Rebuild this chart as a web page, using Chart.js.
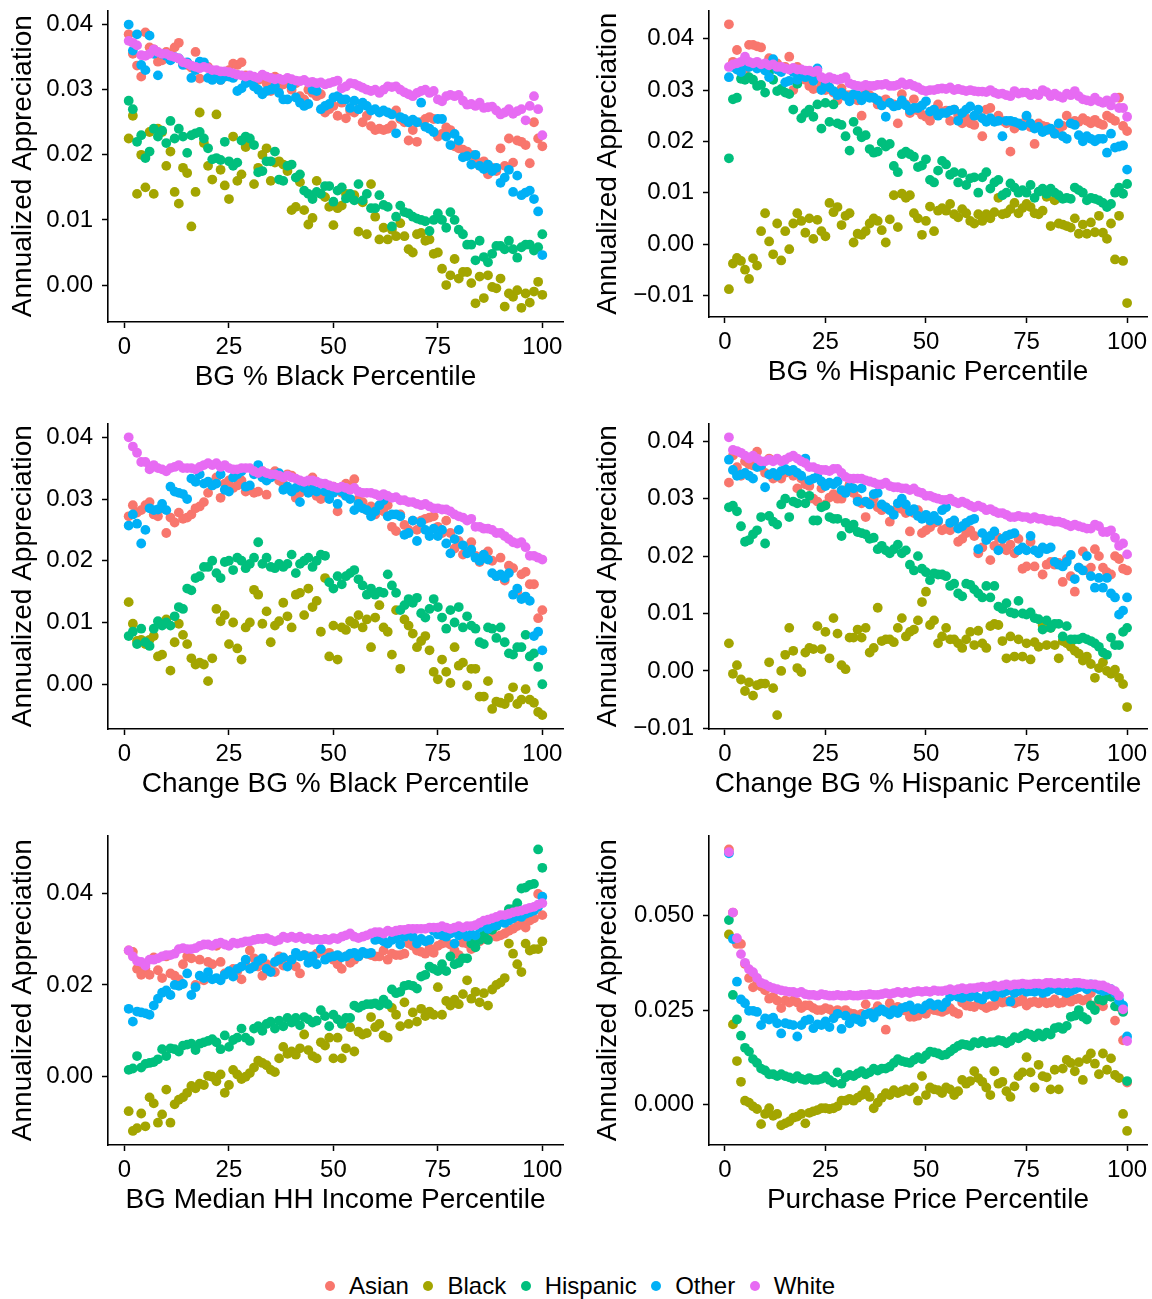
<!DOCTYPE html>
<html lang="en">
<head>
<meta charset="utf-8">
<title>Annualized Appreciation by Percentile</title>
<script src="https://cdn.jsdelivr.net/npm/chart.js@4.4.0/dist/chart.umd.min.js"></script>
<style>
  body { margin: 0; background: #fff; width: 1152px; height: 1299px; position: relative; overflow: hidden;
         font-family: "Liberation Sans", Arial, sans-serif; }
  .panel { position: absolute; }
  #legend { position: absolute; left: 4px; top: 1271px; width: 1152px; height: 30px; display: flex;
            justify-content: center; align-items: center; font-size: 24px; color: #000; }
  #legend .item { display: flex; align-items: center; margin-right: 14.5px; }
  #legend .item:last-child { margin-right: 0; }
  #legend .dot { width: 10px; height: 10px; border-radius: 50%; margin-right: 14px; }
</style>
</head>
<body>
<div id="legend"></div>
<script>
// ---- data: one value per percentile 1..100, series order Asian, Black, Hispanic, Other, White ----
const raceNames = ['Asian', 'Black', 'Hispanic', 'Other', 'White'];
const raceColors = ['#F8766D', '#A3A500', '#00BF7D', '#00B0F6', '#E76BF3'];

const xTicks = [0, 25, 50, 75, 100];
const xTickLabels = ['0', '25', '50', '75', '100'];

// BG % Black Percentile
const p1Asian = [.0385,.0355,.0337,.0320,.0388,.0365,.0362,.0343,.0345,.0358,
.0355,.0365,.0372,.0340,.0338,.0334,.0358,.0317,.0340,.0335,
.0322,.0328,.0315,.0320,.0330,.0340,.0338,.0342,.0322,.0318,
.0310,.0315,.0322,.0310,.0298,.0320,.0305,.0308,.0315,.0300,
.0310,.0290,.0285,.0300,.0295,.0290,.0293,.0265,.0270,.0275,
.0260,.0280,.0256,.0268,.0265,.0270,.0250,.0260,.0244,.0238,
.0240,.0238,.0240,.0245,.0268,.0255,.0250,.0222,.0238,.0220,
.0250,.0255,.0258,.0255,.0228,.0232,.0242,.0238,.0213,.0210,
.0208,.0205,.0200,.0193,.0183,.0190,.0170,.0180,.0175,.0210,
.0183,.0225,.0188,.0222,.0220,.0215,.0187,.0250,.0225,.0213];
const p1Black = [.0225,.0260,.0140,.0200,.0150,.0235,.0140,.0240,.0235,.0183,
.0205,.0143,.0125,.0180,.0172,.0090,.0143,.0265,.0218,.0183,
.0162,.0262,.0177,.0153,.0132,.0228,.0160,.0170,.0212,.0220,
.0155,.0180,.0200,.0210,.0160,.0188,.0190,.0185,.0175,.0115,
.0120,.0158,.0115,.0093,.0103,.0160,.0140,.0135,.0120,.0092,
.0118,.0122,.0140,.0135,.0138,.0082,.0127,.0078,.0155,.0105,
.0070,.0088,.0070,.0085,.0075,.0095,.0075,.0055,.0050,.0078,
.0080,.0068,.0070,.0048,.0050,.0025,.0000,.0015,.0040,.0010,
.0020,.0020,.0003,-.0028,.0013,-.0020,.0015,-.0003,-.0005,.0010,
-.0033,-.0013,-.0018,-.0008,-.0035,-.0013,-.0027,-.0010,.0005,-.0015];
const p1Hispanic = [.0283,.0270,.0220,.0230,.0195,.0205,.0240,.0228,.0237,.0218,
.0252,.0225,.0240,.0228,.0203,.0230,.0233,.0235,.0225,.0210,
.0193,.0195,.0192,.0220,.0190,.0183,.0188,.0222,.0228,.0225,
.0215,.0173,.0175,.0190,.0190,.0205,.0162,.0160,.0183,.0185,
.0165,.0170,.0145,.0140,.0132,.0143,.0140,.0152,.0152,.0128,
.0145,.0150,.0133,.0140,.0130,.0155,.0130,.0140,.0118,.0118,
.0138,.0123,.0120,.0090,.0105,.0122,.0112,.0110,.0105,.0102,
.0100,.0098,.0083,.0100,.0110,.0100,.0088,.0112,.0100,.0085,
.0078,.0062,.0062,.0038,.0068,.0043,.0035,.0048,.0060,.0060,
.0055,.0068,.0055,.0042,.0058,.0062,.0062,.0053,.0058,.0078];
const p1Other = [.0400,.0360,.0385,.0338,.0330,.0383,.0355,.0322,.0355,.0352,
.0345,.0350,.0348,.0338,.0342,.0318,.0330,.0343,.0342,.0318,
.0315,.0320,.0315,.0320,.0320,.0318,.0298,.0302,.0310,.0315,
.0305,.0300,.0293,.0298,.0300,.0305,.0295,.0285,.0285,.0305,
.0288,.0280,.0275,.0278,.0300,.0298,.0270,.0275,.0278,.0288,
.0290,.0285,.0285,.0272,.0283,.0270,.0280,.0275,.0268,.0270,
.0265,.0268,.0265,.0262,.0233,.0258,.0255,.0250,.0254,.0250,
.0280,.0243,.0240,.0235,.0255,.0255,.0228,.0215,.0232,.0222,
.0196,.0198,.0185,.0200,.0183,.0178,.0185,.0175,.0180,.0157,
.0165,.0177,.0143,.0168,.0138,.0142,.0145,.0132,.0113,.0046];
const p1White = [.0375,.0372,.0368,.0353,.0352,.0355,.0362,.0358,.0355,.0355,
.0352,.0350,.0348,.0342,.0340,.0337,.0335,.0333,.0335,.0333,
.0330,.0330,.0328,.0328,.0327,.0325,.0323,.0322,.0320,.0322,
.0320,.0318,.0323,.0320,.0318,.0316,.0317,.0315,.0318,.0316,
.0314,.0313,.0315,.0311,.0312,.0310,.0311,.0308,.0310,.0312,
.0314,.0302,.0305,.0310,.0309,.0306,.0303,.0300,.0298,.0300,
.0295,.0300,.0305,.0304,.0305,.0300,.0296,.0293,.0290,.0295,
.0298,.0300,.0295,.0298,.0285,.0282,.0290,.0292,.0290,.0292,
.0283,.0277,.0278,.0275,.0280,.0272,.0273,.0274,.0268,.0262,
.0265,.0270,.0263,.0267,.0270,.0253,.0275,.0290,.0270,.0230];

// BG % Hispanic Percentile
const p2Asian = [.0428,.0355,.0378,.0342,.0338,.0388,.0388,.0385,.0383,.0350,
.0362,.0355,.0352,.0340,.0345,.0365,.0300,.0345,.0335,.0320,
.0308,.0302,.0322,.0310,.0300,.0305,.0295,.0280,.0303,.0290,
.0290,.0285,.0280,.0250,.0295,.0290,.0285,.0272,.0278,.0282,
.0275,.0272,.0235,.0292,.0272,.0255,.0282,.0260,.0252,.0248,
.0240,.0255,.0272,.0258,.0260,.0240,.0262,.0250,.0235,.0245,
.0235,.0232,.0250,.0210,.0262,.0265,.0240,.0250,.0240,.0235,
.0180,.0225,.0232,.0235,.0248,.0228,.0195,.0235,.0230,.0228,
.0222,.0215,.0222,.0230,.0250,.0235,.0240,.0238,.0245,.0240,
.0235,.0242,.0235,.0232,.0250,.0245,.0240,.0285,.0230,.0220];
const p2Black = [-.0088,-.0038,-.0027,-.0033,-.0050,-.0068,-.0028,-.0042,.0025,.0060,
.0005,-.0020,.0040,-.0032,.0025,-.0010,.0040,.0060,.0045,.0022,
.0050,.0010,.0047,.0025,.0015,.0080,.0062,.0072,.0037,.0055,
.0060,.0003,.0020,.0018,.0025,.0040,.0050,.0045,.0027,.0003,
.0048,.0095,.0033,.0098,.0090,.0095,.0060,.0050,.0018,.0045,
.0073,.0025,.0065,.0070,.0065,.0078,.0058,.0052,.0068,.0060,
.0045,.0040,.0058,.0045,.0058,.0050,.0062,.0090,.0058,.0060,
.0068,.0080,.0060,.0070,.0078,.0072,.0060,.0058,.0065,.0092,
.0035,.0085,.0040,.0038,.0035,.0032,.0050,.0020,.0038,.0020,
.0042,.0023,.0055,.0022,.0010,.0040,-.0030,.0055,-.0033,-.0115];
const p2Hispanic = [.0167,.0282,.0285,.0322,.0320,.0325,.0320,.0308,.0310,.0295,
.0335,.0320,.0298,.0302,.0295,.0292,.0262,.0312,.0245,.0255,
.0262,.0248,.0272,.0225,.0275,.0238,.0272,.0235,.0232,.0210,
.0182,.0238,.0220,.0208,.0212,.0185,.0178,.0180,.0198,.0190,
.0195,.0152,.0140,.0175,.0180,.0175,.0170,.0150,.0153,.0165,
.0125,.0120,.0143,.0162,.0155,.0135,.0140,.0120,.0138,.0115,
.0128,.0130,.0100,.0130,.0140,.0108,.0120,.0125,.0095,.0100,
.0118,.0110,.0100,.0105,.0100,.0115,.0090,.0102,.0108,.0098,
.0108,.0100,.0095,.0088,.0090,.0088,.0110,.0105,.0100,.0085,
.0090,.0088,.0085,.0080,.0072,.0078,.0100,.0110,.0098,.0117];
const p2Other = [.0325,.0345,.0340,.0335,.0350,.0345,.0348,.0342,.0345,.0338,
.0325,.0360,.0340,.0335,.0315,.0318,.0335,.0320,.0330,.0325,
.0330,.0318,.0342,.0300,.0310,.0305,.0298,.0290,.0295,.0288,
.0278,.0292,.0290,.0280,.0290,.0285,.0285,.0280,.0270,.0248,
.0275,.0268,.0270,.0280,.0270,.0260,.0265,.0265,.0270,.0278,
.0258,.0262,.0250,.0255,.0255,.0260,.0262,.0240,.0255,.0262,
.0268,.0250,.0262,.0245,.0238,.0245,.0238,.0240,.0210,.0240,
.0240,.0238,.0235,.0230,.0250,.0235,.0225,.0228,.0218,.0222,
.0225,.0215,.0235,.0210,.0205,.0235,.0232,.0212,.0200,.0210,
.0205,.0200,.0205,.0205,.0178,.0215,.0188,.0190,.0192,.0145];
const p2White = [.0345,.0350,.0352,.0355,.0365,.0355,.0352,.0355,.0350,.0352,
.0348,.0350,.0345,.0345,.0342,.0340,.0343,.0340,.0340,.0338,
.0338,.0335,.0338,.0325,.0322,.0325,.0322,.0320,.0322,.0325,
.0313,.0310,.0308,.0307,.0310,.0308,.0308,.0310,.0310,.0312,
.0308,.0308,.0310,.0315,.0310,.0312,.0308,.0305,.0300,.0298,
.0300,.0300,.0302,.0303,.0302,.0305,.0300,.0302,.0300,.0298,
.0300,.0298,.0297,.0297,.0296,.0300,.0295,.0292,.0293,.0290,
.0288,.0298,.0293,.0295,.0295,.0290,.0293,.0290,.0300,.0296,
.0288,.0293,.0288,.0285,.0293,.0290,.0298,.0288,.0282,.0280,
.0278,.0285,.0278,.0275,.0280,.0270,.0285,.0265,.0265,.0248];

// Change BG % Black Percentile
const p3Asian = [.0272,.0290,.0278,.0282,.0290,.0295,.0275,.0272,.0285,.0245,
.0270,.0262,.0278,.0268,.0270,.0275,.0285,.0288,.0295,.0310,
.0322,.0335,.0302,.0325,.0330,.0318,.0322,.0330,.0312,.0315,
.0310,.0312,.0345,.0307,.0340,.0345,.0330,.0325,.0340,.0338,
.0302,.0310,.0325,.0328,.0335,.0305,.0300,.0310,.0315,.0320,
.0280,.0310,.0325,.0320,.0332,.0300,.0295,.0282,.0288,.0275,
.0285,.0280,.0290,.0255,.0248,.0275,.0258,.0250,.0265,.0250,
.0265,.0268,.0270,.0272,.0255,.0245,.0265,.0245,.0220,.0232,
.0210,.0215,.0230,.0208,.0198,.0210,.0215,.0200,.0175,.0205,
.0168,.0192,.0188,.0150,.0178,.0182,.0162,.0162,.0107,.0120];
const p3Black = [.0133,.0098,.0070,.0072,.0065,.0072,.0078,.0045,.0048,.0105,
.0022,.0068,.0098,.0080,.0065,.0042,.0032,.0035,.0032,.0005,
.0042,.0122,.0102,.0112,.0065,.0100,.0058,.0040,.0092,.0100,
.0153,.0145,.0098,.0118,.0068,.0095,.0102,.0132,.0110,.0092,
.0145,.0148,.0112,.0155,.0125,.0135,.0085,.0172,.0045,.0095,
.0040,.0092,.0088,.0102,.0098,.0112,.0092,.0105,.0060,.0108,
.0128,.0092,.0085,.0048,.0120,.0025,.0105,.0095,.0082,.0060,
.0070,.0078,.0055,.0020,.0008,.0040,.0020,.0002,.0060,.0030,
.0035,-.0002,.0025,.0025,-.0020,-.0020,.0005,-.0040,-.0028,-.0030,
-.0032,-.0022,-.0005,-.0032,-.0025,-.0008,-.0025,-.0030,-.0045,-.0050];
const p3Hispanic = [.0078,.0085,.0065,.0090,.0068,.0062,.0090,.0102,.0095,.0100,
.0095,.0110,.0125,.0122,.0155,.0152,.0172,.0175,.0190,.0190,
.0200,.0180,.0172,.0198,.0200,.0185,.0205,.0200,.0188,.0195,
.0205,.0230,.0195,.0205,.0190,.0188,.0195,.0190,.0195,.0210,
.0180,.0195,.0200,.0205,.0190,.0200,.0210,.0208,.0165,.0155,
.0175,.0162,.0175,.0180,.0185,.0170,.0160,.0145,.0155,.0145,
.0150,.0148,.0178,.0160,.0148,.0120,.0128,.0138,.0132,.0140,
.0115,.0108,.0122,.0138,.0125,.0108,.0090,.0120,.0100,.0125,
.0092,.0110,.0095,.0090,.0068,.0065,.0092,.0090,.0075,.0092,
.0068,.0050,.0048,.0060,.0060,.0080,.0045,.0050,.0028,.0000];
const p3Other = [.0257,.0275,.0260,.0228,.0250,.0285,.0282,.0283,.0292,.0282,
.0320,.0312,.0310,.0308,.0300,.0333,.0328,.0340,.0325,.0328,
.0322,.0325,.0340,.0315,.0312,.0335,.0340,.0345,.0320,.0322,
.0340,.0355,.0335,.0330,.0335,.0340,.0342,.0315,.0320,.0312,
.0318,.0295,.0318,.0310,.0315,.0312,.0325,.0312,.0300,.0310,
.0292,.0312,.0305,.0300,.0282,.0292,.0285,.0282,.0272,.0280,
.0290,.0298,.0272,.0275,.0275,.0272,.0242,.0245,.0265,.0232,
.0262,.0250,.0240,.0252,.0240,.0250,.0228,.0212,.0235,.0250,
.0225,.0212,.0218,.0205,.0200,.0210,.0202,.0180,.0175,.0178,
.0172,.0180,.0145,.0155,.0138,.0142,.0135,.0078,.0085,.0055];
const p3White = [.0400,.0385,.0375,.0360,.0360,.0348,.0355,.0350,.0348,.0345,
.0350,.0352,.0355,.0350,.0350,.0350,.0348,.0352,.0355,.0358,
.0355,.0358,.0352,.0355,.0350,.0348,.0348,.0350,.0350,.0350,
.0345,.0342,.0345,.0342,.0340,.0340,.0338,.0335,.0338,.0335,
.0333,.0330,.0328,.0330,.0330,.0328,.0325,.0325,.0322,.0320,
.0318,.0320,.0318,.0315,.0318,.0312,.0310,.0310,.0310,.0308,
.0305,.0308,.0305,.0302,.0303,.0298,.0298,.0295,.0295,.0292,
.0290,.0292,.0288,.0285,.0285,.0283,.0283,.0280,.0275,.0272,
.0270,.0265,.0268,.0255,.0255,.0252,.0252,.0250,.0245,.0245,
.0240,.0235,.0230,.0228,.0230,.0222,.0208,.0208,.0205,.0202];

// Change BG % Hispanic Percentile
const p4Asian = [.0328,.0375,.0355,.0340,.0365,.0360,.0358,.0382,.0355,.0345,
.0370,.0335,.0340,.0335,.0345,.0348,.0340,.0318,.0335,.0325,
.0322,.0300,.0295,.0318,.0290,.0302,.0308,.0300,.0300,.0315,
.0325,.0310,.0300,.0292,.0268,.0292,.0300,.0285,.0280,.0285,
.0260,.0278,.0285,.0282,.0275,.0243,.0275,.0280,.0240,.0245,
.0250,.0258,.0260,.0245,.0248,.0245,.0260,.0225,.0230,.0240,
.0245,.0235,.0205,.0215,.0230,.0193,.0218,.0232,.0215,.0210,
.0220,.0205,.0230,.0178,.0182,.0225,.0182,.0208,.0168,.0185,
.0190,.0185,.0188,.0155,.0195,.0165,.0138,.0180,.0208,.0175,
.0180,.0212,.0200,.0180,.0172,.0168,.0200,.0195,.0178,.0175];
const p4Black = [.0048,-.0005,.0010,-.0015,-.0035,-.0020,-.0043,-.0025,-.0022,-.0022,
.0015,-.0030,-.0077,.0000,.0028,.0075,.0035,.0005,-.0002,.0032,
.0040,.0038,.0078,.0038,.0068,.0022,.0092,.0065,.0010,.0003,
.0058,.0058,.0072,.0058,.0075,.0032,.0040,.0110,.0052,.0055,
.0055,.0050,.0075,.0092,.0060,.0068,.0072,.0088,.0120,.0138,
.0080,.0088,.0048,.0060,.0075,.0055,.0055,.0048,.0040,.0055,
.0068,.0045,.0070,.0048,.0040,.0078,.0082,.0080,.0052,.0022,
.0060,.0025,.0055,.0025,.0048,.0020,.0050,.0042,.0080,.0045,
.0075,.0045,.0022,.0052,.0048,.0042,.0035,.0030,.0018,.0025,
.0012,-.0012,.0005,.0015,.0000,-.0005,.0002,-.0012,-.0023,-.0063];
const p4Hispanic = [.0285,.0288,.0278,.0252,.0225,.0228,.0238,.0245,.0268,.0222,
.0270,.0260,.0255,.0290,.0300,.0268,.0295,.0292,.0308,.0292,
.0305,.0262,.0262,.0285,.0288,.0268,.0265,.0265,.0235,.0258,
.0248,.0255,.0242,.0240,.0238,.0230,.0232,.0212,.0218,.0210,
.0205,.0212,.0220,.0205,.0210,.0185,.0175,.0200,.0178,.0172,
.0158,.0170,.0168,.0168,.0165,.0148,.0152,.0135,.0130,.0152,
.0150,.0142,.0135,.0128,.0148,.0128,.0148,.0112,.0108,.0118,
.0102,.0100,.0122,.0100,.0098,.0102,.0092,.0090,.0072,.0088,
.0075,.0082,.0082,.0060,.0078,.0055,.0055,.0055,.0058,.0055,
.0052,.0048,.0042,.0032,.0028,.0058,.0045,.0045,.0068,.0075];
const p4Other = [.0368,.0350,.0340,.0342,.0345,.0340,.0335,.0355,.0358,.0320,
.0342,.0345,.0340,.0348,.0352,.0348,.0350,.0345,.0340,.0370,
.0332,.0335,.0338,.0330,.0322,.0328,.0325,.0330,.0315,.0310,
.0320,.0318,.0295,.0318,.0295,.0290,.0308,.0310,.0290,.0285,
.0280,.0272,.0292,.0300,.0290,.0278,.0282,.0270,.0265,.0272,
.0262,.0270,.0262,.0280,.0285,.0258,.0262,.0248,.0252,.0258,
.0262,.0265,.0212,.0240,.0228,.0235,.0243,.0210,.0230,.0235,
.0238,.0240,.0210,.0215,.0210,.0235,.0210,.0205,.0215,.0212,
.0215,.0190,.0185,.0182,.0190,.0202,.0160,.0180,.0175,.0200,
.0165,.0145,.0162,.0145,.0162,.0135,.0128,.0098,.0105,.0128];
const p4White = [.0407,.0385,.0383,.0380,.0375,.0370,.0375,.0370,.0365,.0365,
.0368,.0365,.0370,.0365,.0368,.0372,.0375,.0370,.0365,.0362,
.0355,.0355,.0352,.0350,.0350,.0348,.0352,.0352,.0345,.0338,
.0335,.0335,.0335,.0335,.0332,.0330,.0328,.0325,.0325,.0328,
.0322,.0320,.0320,.0318,.0318,.0315,.0318,.0312,.0310,.0305,
.0305,.0302,.0300,.0298,.0298,.0300,.0295,.0292,.0295,.0292,
.0288,.0285,.0288,.0285,.0280,.0282,.0278,.0275,.0275,.0272,
.0268,.0268,.0270,.0268,.0268,.0265,.0268,.0265,.0265,.0262,
.0262,.0260,.0260,.0258,.0255,.0252,.0255,.0252,.0250,.0248,
.0248,.0255,.0252,.0242,.0242,.0245,.0232,.0218,.0222,.0203];

// BG Median HH Income Percentile
const p5Asian = [.0275,.0272,.0235,.0222,.0235,.0222,.0260,.0232,.0215,.0262,
.0225,.0220,.0212,.0245,.0262,.0258,.0200,.0255,.0210,.0250,
.0245,.0285,.0250,.0225,.0228,.0235,.0230,.0212,.0245,.0275,
.0258,.0240,.0220,.0245,.0240,.0228,.0262,.0242,.0250,.0255,
.0240,.0225,.0265,.0262,.0255,.0268,.0275,.0265,.0270,.0255,
.0245,.0235,.0262,.0248,.0255,.0262,.0270,.0268,.0265,.0262,
.0262,.0275,.0255,.0268,.0265,.0265,.0268,.0290,.0285,.0275,
.0272,.0268,.0280,.0270,.0285,.0290,.0292,.0288,.0275,.0265,
.0292,.0290,.0278,.0290,.0295,.0300,.0305,.0310,.0305,.0308,
.0312,.0318,.0322,.0328,.0332,.0325,.0340,.0345,.0398,.0352];
const p5Black = [-.0075,-.0118,-.0112,-.0080,-.0108,-.0045,-.0058,-.0100,-.0082,-.0028,
-.0100,-.0060,-.0050,-.0045,-.0035,-.0020,-.0025,-.0015,-.0018,.0002,
.0000,-.0010,.0005,-.0035,-.0018,.0015,.0005,-.0005,.0000,.0008,
.0020,.0035,.0030,.0025,.0015,.0010,.0040,.0065,.0050,.0055,
.0048,.0062,.0092,.0058,.0045,.0040,.0075,.0068,.0085,.0040,
.0085,.0040,.0062,.0108,.0055,.0098,.0092,.0095,.0130,.0108,
.0115,.0090,.0085,.0150,.0135,.0110,.0162,.0115,.0140,.0120,
.0148,.0132,.0142,.0135,.0195,.0135,.0165,.0155,.0168,.0158,
.0180,.0210,.0170,.0185,.0162,.0182,.0155,.0190,.0200,.0205,
.0215,.0290,.0268,.0245,.0228,.0290,.0275,.0278,.0278,.0295];
const p5Hispanic = [.0015,.0018,.0045,.0020,.0028,.0030,.0032,.0038,.0060,.0045,
.0062,.0060,.0055,.0068,.0070,.0072,.0058,.0072,.0075,.0078,
.0082,.0075,.0060,.0090,.0065,.0080,.0085,.0105,.0085,.0078,
.0105,.0110,.0100,.0115,.0120,.0105,.0122,.0110,.0128,.0118,
.0128,.0112,.0130,.0125,.0118,.0122,.0145,.0132,.0110,.0135,
.0125,.0115,.0128,.0128,.0155,.0150,.0155,.0158,.0158,.0160,
.0155,.0168,.0158,.0190,.0182,.0185,.0198,.0200,.0198,.0192,
.0218,.0222,.0240,.0235,.0230,.0245,.0230,.0262,.0245,.0248,
.0258,.0258,.0290,.0282,.0298,.0310,.0298,.0320,.0328,.0342,
.0340,.0365,.0365,.0378,.0410,.0412,.0418,.0420,.0495,.0455];
const p5Other = [.0148,.0120,.0142,.0140,.0138,.0135,.0155,.0170,.0183,.0188,
.0178,.0200,.0198,.0202,.0225,.0178,.0195,.0220,.0215,.0228,
.0212,.0215,.0210,.0222,.0230,.0218,.0235,.0240,.0255,.0235,
.0240,.0252,.0258,.0235,.0228,.0250,.0255,.0260,.0240,.0255,
.0270,.0262,.0265,.0248,.0262,.0245,.0278,.0255,.0260,.0262,
.0265,.0260,.0262,.0268,.0270,.0262,.0272,.0268,.0270,.0298,
.0300,.0295,.0290,.0298,.0302,.0288,.0305,.0310,.0305,.0290,
.0300,.0295,.0298,.0318,.0310,.0308,.0305,.0312,.0290,.0308,
.0312,.0305,.0310,.0308,.0325,.0330,.0322,.0328,.0330,.0338,
.0335,.0340,.0345,.0350,.0348,.0355,.0358,.0362,.0370,.0392];
const p5White = [.0275,.0262,.0252,.0250,.0242,.0255,.0255,.0258,.0262,.0265,
.0265,.0268,.0278,.0280,.0278,.0278,.0280,.0285,.0288,.0288,
.0285,.0290,.0292,.0288,.0285,.0292,.0290,.0292,.0295,.0295,
.0298,.0300,.0300,.0302,.0298,.0295,.0298,.0305,.0302,.0305,
.0302,.0305,.0300,.0302,.0298,.0300,.0298,.0300,.0298,.0302,
.0300,.0305,.0308,.0312,.0305,.0302,.0305,.0308,.0312,.0315,
.0315,.0312,.0318,.0315,.0318,.0320,.0320,.0322,.0322,.0322,
.0322,.0322,.0325,.0325,.0325,.0328,.0325,.0322,.0325,.0328,
.0325,.0328,.0328,.0330,.0335,.0340,.0342,.0345,.0348,.0352,
.0352,.0355,.0358,.0360,.0362,.0365,.0368,.0370,.0375,.0378];

// Purchase Price Percentile
const p6Asian = [.0675,.0508,.0425,.0425,.0372,.0335,.0310,.0320,.0312,.0302,
.0280,.0285,.0275,.0255,.0275,.0270,.0275,.0270,.0255,.0262,
.0262,.0255,.0250,.0250,.0255,.0252,.0245,.0250,.0242,.0250,
.0242,.0240,.0232,.0240,.0265,.0240,.0245,.0260,.0250,.0198,
.0268,.0255,.0258,.0250,.0248,.0232,.0232,.0235,.0245,.0240,
.0255,.0250,.0248,.0245,.0250,.0255,.0245,.0240,.0270,.0262,
.0260,.0258,.0268,.0262,.0255,.0260,.0262,.0272,.0270,.0272,
.0275,.0268,.0272,.0278,.0262,.0270,.0272,.0268,.0275,.0268,
.0270,.0278,.0268,.0270,.0285,.0272,.0278,.0280,.0275,.0278,
.0295,.0262,.0265,.0260,.0292,.0302,.0222,.0258,.0170,.0058];
const p6Black = [.0450,.0212,.0115,.0060,.0010,.0005,-.0005,-.0012,-.0052,-.0025,
-.0010,-.0030,-.0025,-.0055,-.0050,-.0045,-.0035,-.0032,-.0025,-.0050,
-.0022,-.0018,-.0015,-.0010,-.0010,-.0012,-.0010,-.0005,.0010,.0010,
.0015,.0010,.0018,.0025,.0038,.0020,-.0010,.0005,.0018,.0030,
.0025,.0038,.0030,.0035,.0040,.0035,.0045,.0010,.0075,.0025,
.0045,.0040,.0038,.0030,.0045,.0040,.0025,.0035,.0065,.0055,
.0062,.0088,.0070,.0060,.0045,.0025,.0088,.0055,.0060,.0035,
.0020,.0048,.0075,.0085,.0125,.0085,.0045,.0105,.0075,.0072,
.0040,.0092,.0040,.0095,.0118,.0110,.0088,.0112,.0065,.0120,
.0135,.0108,.0080,.0135,.0092,.0122,.0078,.0070,-.0025,-.0070];
const p6Hispanic = [.0488,.0290,.0225,.0182,.0150,.0140,.0120,.0110,.0095,.0090,
.0080,.0080,.0075,.0080,.0075,.0072,.0068,.0075,.0068,.0065,
.0070,.0065,.0065,.0068,.0075,.0065,.0058,.0085,.0055,.0072,
.0078,.0075,.0082,.0088,.0080,.0085,.0095,.0090,.0095,.0095,
.0100,.0110,.0120,.0115,.0112,.0110,.0118,.0125,.0120,.0130,
.0140,.0138,.0135,.0130,.0132,.0140,.0148,.0155,.0160,.0158,
.0155,.0165,.0162,.0168,.0162,.0165,.0165,.0170,.0168,.0162,
.0168,.0178,.0175,.0182,.0188,.0185,.0178,.0188,.0180,.0190,
.0185,.0202,.0205,.0200,.0208,.0232,.0235,.0250,.0232,.0225,
.0262,.0250,.0278,.0275,.0288,.0285,.0260,.0260,.0245,.0062];
const p6Other = [.0665,.0438,.0325,.0278,.0268,.0248,.0248,.0245,.0210,.0228,
.0225,.0230,.0215,.0188,.0215,.0212,.0210,.0180,.0210,.0222,
.0225,.0202,.0212,.0210,.0220,.0205,.0228,.0240,.0200,.0235,
.0215,.0228,.0225,.0218,.0238,.0242,.0230,.0245,.0252,.0245,
.0238,.0250,.0242,.0255,.0258,.0262,.0250,.0255,.0252,.0262,
.0268,.0262,.0265,.0258,.0270,.0285,.0290,.0285,.0282,.0288,
.0285,.0290,.0282,.0278,.0290,.0295,.0285,.0298,.0295,.0300,
.0272,.0295,.0300,.0305,.0298,.0300,.0298,.0302,.0295,.0298,
.0305,.0308,.0302,.0300,.0295,.0300,.0305,.0310,.0312,.0305,
.0318,.0310,.0305,.0300,.0302,.0305,.0295,.0275,.0262,.0180];
const p6White = [.0668,.0508,.0440,.0398,.0375,.0358,.0350,.0335,.0322,.0318,
.0312,.0308,.0305,.0302,.0300,.0298,.0298,.0295,.0298,.0292,
.0290,.0290,.0288,.0292,.0290,.0288,.0288,.0290,.0288,.0288,
.0290,.0288,.0288,.0290,.0290,.0292,.0290,.0290,.0292,.0295,
.0292,.0295,.0298,.0295,.0298,.0295,.0298,.0300,.0298,.0300,
.0298,.0302,.0300,.0300,.0302,.0305,.0302,.0305,.0308,.0305,
.0308,.0308,.0310,.0312,.0310,.0312,.0315,.0312,.0315,.0318,
.0315,.0318,.0318,.0320,.0318,.0318,.0320,.0320,.0318,.0322,
.0322,.0320,.0322,.0320,.0322,.0320,.0322,.0322,.0320,.0318,
.0318,.0318,.0315,.0315,.0310,.0305,.0300,.0288,.0252,.0168];

// y tick values and their printed labels
const yTicks2 = [0, 0.01, 0.02, 0.03, 0.04];
const yLabels2 = ['0.00', '0.01', '0.02', '0.03', '0.04'];
const yTicksNeg = [-0.01, 0, 0.01, 0.02, 0.03, 0.04];
const yLabelsNeg = ['\u22120.01', '0.00', '0.01', '0.02', '0.03', '0.04'];
const yTicksIncome = [0, 0.02, 0.04];
const yLabelsIncome = ['0.00', '0.02', '0.04'];
const yTicksPrice = [0, 0.025, 0.05];
const yLabelsPrice = ['0.000', '0.025', '0.050'];

const percentile = [];
for (let i = 1; i <= 100; i++) percentile.push(i);

// ---- layout (page pixels) ----
const panels = [
  { xTitle: 'BG % Black Percentile', series: [p1Asian, p1Black, p1Hispanic, p1Other, p1White],
    yTicks: yTicks2, yLabels: yLabels2, cl: 0, pl: 108, pr: 563, pt: 7, pb: 322, titleX: 23 },
  { xTitle: 'BG % Hispanic Percentile', series: [p2Asian, p2Black, p2Hispanic, p2Other, p2White],
    yTicks: yTicksNeg, yLabels: yLabelsNeg, cl: 576, pl: 709, pr: 1147, pt: 7, pb: 317, titleX: 32 },
  { xTitle: 'Change BG % Black Percentile', series: [p3Asian, p3Black, p3Hispanic, p3Other, p3White],
    yTicks: yTicks2, yLabels: yLabels2, cl: 0, pl: 108, pr: 563, pt: 420, pb: 729, titleX: 23 },
  { xTitle: 'Change BG % Hispanic Percentile', series: [p4Asian, p4Black, p4Hispanic, p4Other, p4White],
    yTicks: yTicksNeg, yLabels: yLabelsNeg, cl: 576, pl: 709, pr: 1147, pt: 420, pb: 729, titleX: 32 },
  { xTitle: 'BG Median HH Income Percentile', series: [p5Asian, p5Black, p5Hispanic, p5Other, p5White],
    yTicks: yTicksIncome, yLabels: yLabelsIncome, cl: 0, pl: 108, pr: 563, pt: 832, pb: 1145, titleX: 23 },
  { xTitle: 'Purchase Price Percentile', series: [p6Asian, p6Black, p6Hispanic, p6Other, p6White],
    yTicks: yTicksPrice, yLabels: yLabelsPrice, cl: 576, pl: 709, pr: 1147, pt: 832, pb: 1145, titleX: 32 }
];

Chart.defaults.font.family = '"Liberation Sans", Arial, sans-serif';
Chart.defaults.color = '#000';

const PAD = 20, XAXIS_H = 80;

function drawPanel(p) {
  const div = document.createElement('div');
  div.className = 'panel';
  const top = p.pt - PAD;
  const w = p.pr + PAD - p.cl, h = p.pb + XAXIS_H - top;
  div.style.left = p.cl + 'px';
  div.style.top = top + 'px';
  const cv = document.createElement('canvas');
  cv.width = w; cv.height = h;
  div.appendChild(cv);
  document.body.appendChild(div);

  // ggplot-style 5% expansion of the data range
  let lo = Infinity, hi = -Infinity;
  p.series.forEach(s => s.forEach(v => { lo = Math.min(lo, v); hi = Math.max(hi, v); }));
  const ex = (hi - lo) * 0.05;

  const datasets = p.series.map((s, i) => ({
    label: raceNames[i],
    data: s.map((v, j) => ({ x: percentile[j], y: v })),
    backgroundColor: raceColors[i],
    borderColor: raceColors[i],
    pointRadius: 4.9,
    pointBorderWidth: 0,
    order: raceNames.length - 1 - i,
    clip: false
  }));

  const axisGrid = { drawOnChartArea: false, drawTicks: true, tickLength: 6, tickWidth: 1.5, tickColor: '#000' };
  const axisBorder = { display: true, color: '#000', width: 1.6 };

  new Chart(cv, {
    type: 'scatter',
    data: { datasets: datasets },
    options: {
      responsive: false,
      animation: false,
      events: [],
      layout: { padding: { top: PAD, right: PAD, left: 0, bottom: 0 } },
      plugins: { legend: { display: false }, tooltip: { enabled: false } },
      scales: {
        x: {
          type: 'linear', bounds: 'data', min: -3.95, max: 104.95,
          afterBuildTicks: sc => { sc.ticks = xTicks.map(v => ({ value: v })); },
          afterFit: sc => { sc.height = XAXIS_H; },
          ticks: { callback: (v, i) => xTickLabels[i], font: { size: 24 }, color: '#000',
                   padding: 5, maxRotation: 0, autoSkip: false },
          grid: axisGrid,
          border: axisBorder,
          title: { display: true, text: p.xTitle, font: { size: 28 }, color: '#000',
                   padding: { top: 0, bottom: 8 } }
        },
        y: {
          type: 'linear', bounds: 'data', min: lo - ex, max: hi + ex,
          afterBuildTicks: sc => { sc.ticks = p.yTicks.map(v => ({ value: v })); },
          afterFit: sc => { sc.width = p.pl - p.cl; },
          ticks: { callback: (v, i) => p.yLabels[i], font: { size: 24 }, color: '#000', padding: 9 },
          grid: axisGrid,
          border: axisBorder,
          title: { display: true, text: 'Annualized Appreciation', font: { size: 28 }, color: '#000',
                   padding: { top: p.titleX - 16.8, bottom: 0 } }
        }
      }
    }
  });
}

panels.forEach(drawPanel);

// legend
const legend = document.getElementById('legend');
raceNames.forEach((name, i) => {
  const item = document.createElement('div');
  item.className = 'item';
  const dot = document.createElement('span');
  dot.className = 'dot';
  dot.style.background = raceColors[i];
  const txt = document.createElement('span');
  txt.textContent = name;
  item.appendChild(dot);
  item.appendChild(txt);
  legend.appendChild(item);
});
</script>
</body>
</html>
